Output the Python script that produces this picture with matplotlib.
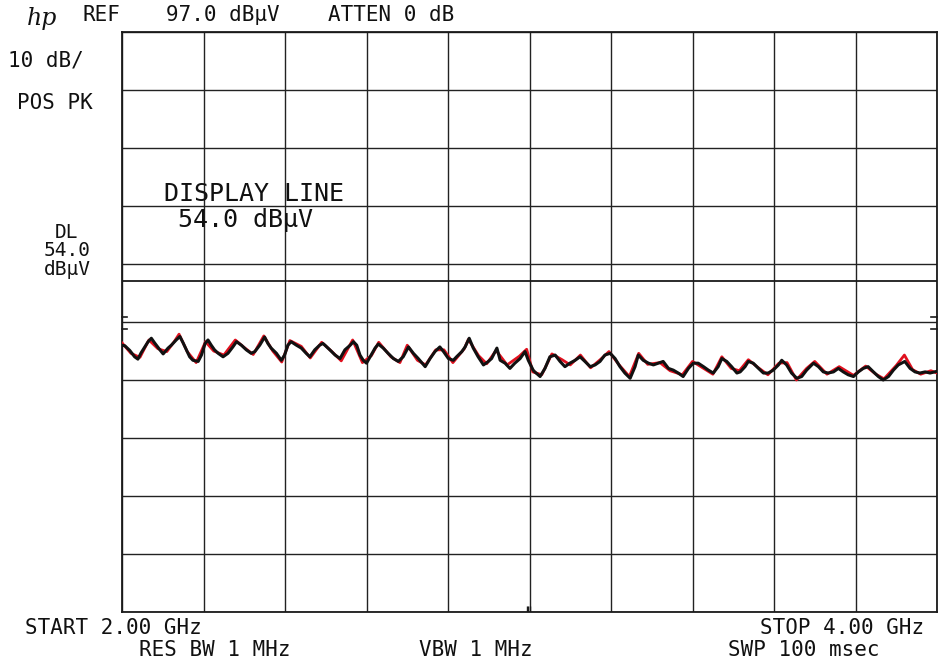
import numpy as np
import matplotlib
matplotlib.use('Agg')
import matplotlib.pyplot as plt

#%% data read off the plotter output (GHz, dBuV)
ref_level = 97.0
db_per_div = 10.0
display_line = 54.0
f_start, f_stop = 2.0, 4.0

black_f = [2.000, 2.007, 2.019, 2.031, 2.039, 2.047, 2.056, 2.064, 2.072, 2.080,
           2.093, 2.101, 2.113, 2.121, 2.133, 2.142, 2.150, 2.158, 2.166, 2.174,
           2.187, 2.195, 2.204, 2.211, 2.219, 2.227, 2.236, 2.248, 2.260, 2.272,
           2.281, 2.293, 2.305, 2.317, 2.326, 2.338, 2.350, 2.358, 2.366, 2.379,
           2.391, 2.399, 2.407, 2.415, 2.428, 2.440, 2.452, 2.461, 2.473, 2.485,
           2.493, 2.498, 2.510, 2.523, 2.535, 2.547, 2.560, 2.568, 2.576, 2.584,
           2.592, 2.600, 2.609, 2.621, 2.629, 2.641, 2.653, 2.666, 2.678, 2.690,
           2.703, 2.715, 2.727, 2.744, 2.756, 2.768, 2.780, 2.789, 2.801, 2.813,
           2.821, 2.834, 2.842, 2.852, 2.862, 2.874, 2.887, 2.899, 2.907, 2.920,
           2.928, 2.940, 2.952, 2.964, 2.977, 2.989, 2.997, 3.009, 3.013, 3.026,
           3.038, 3.050, 3.063, 3.075, 3.087, 3.099, 3.112, 3.124, 3.136, 3.149,
           3.161, 3.173, 3.185, 3.198, 3.210, 3.222, 3.234, 3.247, 3.259, 3.267,
           3.279, 3.292, 3.304, 3.316, 3.328, 3.341, 3.353, 3.365, 3.377, 3.390,
           3.402, 3.414, 3.427, 3.439, 3.451, 3.463, 3.472, 3.484, 3.496, 3.509,
           3.517, 3.529, 3.537, 3.549, 3.562, 3.574, 3.586, 3.598, 3.611, 3.619,
           3.631, 3.643, 3.656, 3.668, 3.680, 3.697, 3.709, 3.721, 3.733, 3.746,
           3.758, 3.770, 3.782, 3.795, 3.807, 3.819, 3.831, 3.844, 3.856, 3.868,
           3.881, 3.893, 3.905, 3.921, 3.934, 3.946, 3.958, 3.971, 3.983, 3.995,
           4.000]
black_db = [43.0, 42.9, 42.1, 41.0, 40.6, 41.7, 42.7, 43.6, 44.2, 43.4,
            42.2, 41.5, 42.5, 43.0, 43.9, 44.5, 43.4, 42.2, 41.0, 40.4,
            40.2, 41.3, 43.3, 43.9, 43.0, 42.2, 41.6, 41.0, 41.6, 42.7,
            43.6, 43.0, 42.2, 41.6, 41.9, 43.0, 44.4, 43.3, 42.5, 41.6,
            40.4, 41.3, 43.0, 43.6, 43.0, 42.5, 41.6, 41.0, 42.2, 43.0,
            43.3, 43.0, 42.2, 41.3, 40.7, 42.2, 43.0, 43.6, 43.0, 41.3,
            40.4, 39.9, 41.0, 42.5, 43.2, 42.5, 41.6, 40.7, 40.2, 41.0,
            42.7, 41.6, 40.7, 39.3, 40.7, 41.9, 42.7, 41.9, 40.7, 40.4,
            41.0, 41.9, 42.7, 44.2, 42.5, 41.0, 39.6, 40.2, 40.7, 42.5,
            40.4, 39.9, 39.0, 39.9, 40.7, 41.9, 40.4, 38.7, 38.4, 37.6,
            39.0, 41.0, 41.3, 40.2, 39.3, 39.9, 40.4, 41.0, 40.2, 39.3,
            39.6, 40.2, 41.3, 41.6, 40.7, 39.3, 38.2, 37.3, 39.3, 41.3,
            40.4, 39.9, 39.6, 39.9, 40.2, 39.0, 38.7, 38.2, 37.6, 39.0,
            39.9, 39.9, 39.3, 38.7, 38.2, 39.3, 40.7, 40.2, 39.3, 38.2,
            38.4, 39.3, 40.2, 39.9, 39.0, 38.2, 38.2, 38.7, 39.6, 40.4,
            39.6, 38.2, 37.3, 37.6, 38.7, 39.9, 39.3, 38.4, 38.2, 38.4,
            39.0, 38.4, 37.9, 37.6, 38.4, 39.0, 39.3, 38.4, 37.6, 37.0,
            37.6, 38.7, 39.6, 40.2, 39.0, 38.4, 38.2, 38.4, 38.2, 38.4,
            38.5]

red_f = [2.000, 2.022, 2.044, 2.066, 2.088, 2.110, 2.128, 2.140, 2.160, 2.182,
         2.205, 2.225, 2.250, 2.278, 2.300, 2.322, 2.348, 2.370, 2.392, 2.412,
         2.440, 2.462, 2.490, 2.515, 2.538, 2.566, 2.590, 2.612, 2.630, 2.660,
         2.682, 2.700, 2.725, 2.745, 2.770, 2.790, 2.812, 2.840, 2.850, 2.875,
         2.895, 2.918, 2.945, 2.975, 2.993, 3.008, 3.030, 3.055, 3.080, 3.100,
         3.125, 3.150, 3.175, 3.195, 3.220, 3.245, 3.268, 3.290, 3.320, 3.345,
         3.375, 3.400, 3.425, 3.450, 3.472, 3.495, 3.515, 3.537, 3.560, 3.585,
         3.612, 3.632, 3.655, 3.680, 3.700, 3.730, 3.760, 3.795, 3.825, 3.850,
         3.870, 3.900, 3.920, 3.940, 3.960, 3.985, 4.000]
red_db = [43.4, 41.6, 40.9, 43.9, 42.4, 41.9, 43.6, 44.9, 41.9, 40.0,
          43.6, 42.0, 41.3, 43.9, 42.6, 41.4, 44.6, 42.0, 40.1, 43.8,
          42.8, 40.8, 43.5, 41.9, 40.3, 43.9, 40.0, 41.2, 43.5, 41.0,
          40.0, 43.0, 40.4, 39.6, 42.2, 42.2, 40.0, 42.4, 44.0, 41.2,
          39.8, 42.1, 39.6, 41.1, 42.3, 38.4, 37.9, 41.5, 40.5, 39.6,
          41.3, 39.1, 40.6, 41.9, 39.6, 37.6, 41.6, 39.7, 40.0, 38.6,
          37.9, 40.2, 39.1, 38.0, 41.0, 39.0, 38.6, 40.5, 39.2, 37.9,
          39.9, 40.0, 37.0, 39.0, 40.2, 38.0, 39.3, 37.8, 39.4, 38.0,
          37.2, 39.5, 41.3, 38.8, 38.0, 38.6, 38.2]

# reference marks on the graticule edges (dBuV) and the centre marks (GHz)
edge_marks = [47.9, 45.8]
centre_marks = [2.993, 2.997, 3.002]

#%% figure
W, H = 940, 662
fig = plt.figure(figsize=(W / 100, H / 100), dpi=100, facecolor='white')
ax = fig.add_axes([122 / W, 1 - 612 / H, 815 / W, 580 / H])

bottom = ref_level - 10 * db_per_div
ax.set_xlim(f_start, f_stop)
ax.set_ylim(bottom, ref_level)
ax.set_xticks(np.linspace(f_start, f_stop, 11))
ax.set_yticks(np.arange(bottom, ref_level + 1, db_per_div))
ax.tick_params(length=0, labelbottom=False, labelleft=False)
ax.grid(True, color='#222222', linewidth=1.0)
for s in ax.spines.values():
  s.set_color('#1a1a1a')
  s.set_linewidth(1.3)

ax.axhline(display_line, color='#1a1a1a', linewidth=1.3)

# traces
ax.plot(red_f, red_db, color='#e0101e', linewidth=2.0, zorder=3)
ax.plot(black_f, black_db, color='#111111', linewidth=2.2, zorder=4)

for m in edge_marks:
  ax.plot([f_start, f_start + 0.012], [m, m], color='#1a1a1a', lw=1.2, clip_on=False)
  ax.plot([f_stop - 0.015, f_stop], [m, m], color='#1a1a1a', lw=1.2, clip_on=False)
ax.vlines(centre_marks, bottom, bottom + 1.0, color='#1a1a1a', lw=1.0)

#%% annotations (pixel centres from the plot)
mono = 'DejaVu Sans Mono'
def put(x, y, s, size=15, **kw):
  fig.text(x / W, 1 - y / H, s, family=mono, fontsize=size,
           ha='center', va='center', color='#111111', **kw)

fig.text(42 / W, 1 - 18 / H, 'hp', family='DejaVu Serif', style='italic',
         fontsize=17, ha='center', va='center', color='#111111')
put(101, 15, 'REF')
put(223, 15, '97.0 dB\u00b5V')
put(391, 15, 'ATTEN 0 dB')
put(46, 60, '10 dB/')
put(55, 103, 'POS PK')
# display line readout, one block with tight line spacing
put(67, 251, 'DL\n54.0\ndB\u00b5V', size=14, linespacing=0.95, multialignment='center')
put(254, 194, 'DISPLAY LINE', size=18)
put(245, 220, '54.0 dB\u00b5V', size=18)
put(113, 628, 'START 2.00 GHz')
put(215, 650, 'RES BW 1 MHz')
put(476, 650, 'VBW 1 MHz')
put(842, 628, 'STOP 4.00 GHz')
put(804, 650, 'SWP 100 msec')

fig.savefig('out.png', dpi=100, facecolor='white')
